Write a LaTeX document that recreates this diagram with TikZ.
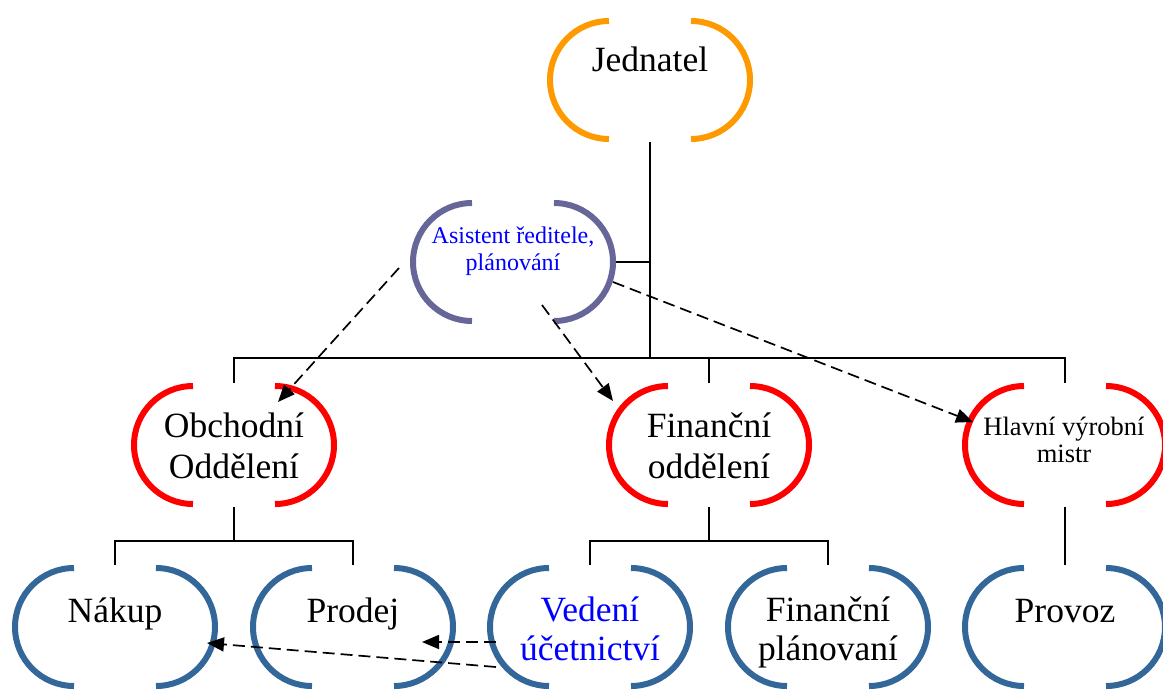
\documentclass[tikz,border=0pt]{standalone}
\usepackage{fontspec}
\setmainfont{Liberation Serif}
\usetikzlibrary{arrows.meta}

\definecolor{cOrange}{RGB}{255,153,0}
\definecolor{cPurple}{RGB}{102,102,153}
\definecolor{cRed}{RGB}{255,0,0}
\definecolor{cSteel}{RGB}{51,102,153}
\definecolor{cText}{RGB}{0,0,255}

\tikzset{
  unitbox/.style={draw=none, rectangle, minimum width=200pt, minimum height=118pt,
                  inner sep=0pt, outer sep=4pt},
  bracket/.style={line width=6pt},
  lbl/.style={anchor=base, inner sep=0pt, font=\fontsize{35.5}{40}\selectfont},
  midlbl/.style={anchor=base, inner sep=0pt, font=\fontsize{26.5}{30}\selectfont},
  smalllbl/.style={anchor=base, inner sep=0pt, text=cText, font=\fontsize{24}{28}\selectfont},
  wire/.style={line width=1.8pt, line cap=rect},
  dashlink/.style={line width=1.7pt, dash pattern=on 12pt off 6pt,
                   -{Triangle[length=17pt,width=14pt]}},
}

% an organisational unit: invisible box with two round brackets
\newcommand\orgunit[4]{%
  \node[unitbox] (#1) at (#2,#3) {};
  \draw[bracket,#4] ([shift={(-41pt,59pt)}]#1.center)
        arc[start angle=90,end angle=270,radius=59pt];
  \draw[bracket,#4] ([shift={(41pt,-59pt)}]#1.center)
        arc[start angle=-90,end angle=90,radius=59pt];
}

\begin{document}
\begin{tikzpicture}[x=1pt,y=1pt]
\useasboundingbox (0,0) rectangle (1163,-691);
\clip (0,0) rectangle (1163,-691);

% units
\orgunit{jed}{650}{-80}{cOrange}
\orgunit{asi}{513}{-262}{cPurple}
\orgunit{obch}{234}{-445}{cRed}
\orgunit{fin}{709}{-445}{cRed}
\orgunit{hvm}{1065}{-445}{cRed}
\orgunit{nak}{115}{-627}{cSteel}
\orgunit{pro}{353}{-627}{cSteel}
\orgunit{ved}{590}{-627}{cSteel}
\orgunit{fpl}{828}{-627}{cSteel}
\orgunit{prv}{1065}{-627}{cSteel}

% labels
\node[lbl] (jedT) at (650,-71) {Jednatel};
\node[smalllbl] (asiT1) at (513,-243) {Asistent ředitele,};
\node[smalllbl] (asiT2) at (513,-270) {plánování};
\node[lbl] (obchT1) at (234,-437) {Obchodní};
\node[lbl] (obchT2) at (234,-478) {Oddělení};
\node[lbl] (finT1) at (709,-437) {Finanční};
\node[lbl] (finT2) at (709,-478) {oddělení};
\node[midlbl] (hvmT1) at (1064,-435) {Hlavní výrobní};
\node[midlbl] (hvmT2) at (1064,-462) {mistr};
\node[lbl] (nakT) at (115,-622) {Nákup};
\node[lbl] (proT) at (353,-622) {Prodej};
\node[lbl, text=cText] (vedT1) at (590,-621) {Vedení};
\node[lbl, text=cText] (vedT2) at (590,-660) {účetnictví};
\node[lbl] (fplT1) at (828,-621) {Finanční};
\node[lbl] (fplT2) at (828,-660) {plánovaní};
\node[lbl] (prvT) at (1065,-622) {Provoz};

% hierarchy lines
\coordinate (trunk) at (650,-358);
\coordinate (busL) at (234,-541);
\coordinate (busM) at (709,-541);
\draw[wire] (jed.south) -- (trunk);
\draw[wire] (obch.north) -- (obch.north |- trunk) -- (hvm.north |- trunk) -- (hvm.north);
\draw[wire] (fin.north) -- (fin.north |- trunk);
\draw[wire] (asi.east) -- (asi.east -| trunk);
\draw[wire] (obch.south) -- (busL);
\draw[wire] (nak.north) -- (nak.north |- busL) -- (pro.north |- busL) -- (pro.north);
\draw[wire] (fin.south) -- (busM);
\draw[wire] (ved.north) -- (ved.north |- busM) -- (fpl.north |- busM) -- (fpl.north);
\draw[wire] (hvm.south) -- (prv.north);

% information flows
\draw[dashlink] ([shift={(-10,-6)}]asi.west) -- ([shift={(44,-20)}]obch.north);
\draw[dashlink] ([shift={(29,-43)}]asi.center) -- ([shift={(-96,-19)}]fin.north);
\draw[dashlink] ([shift={(100,-20)}]asi.center) -- ([shift={(12,23)}]hvm.west);
\draw[dashlink] ([shift={(10,-15)}]ved.west) -- ([shift={(69,-15)}]pro.center);
\draw[dashlink] ([shift={(10,-40)}]ved.west) -- ([shift={(92,-16)}]nak.center);
\end{tikzpicture}
\end{document}
